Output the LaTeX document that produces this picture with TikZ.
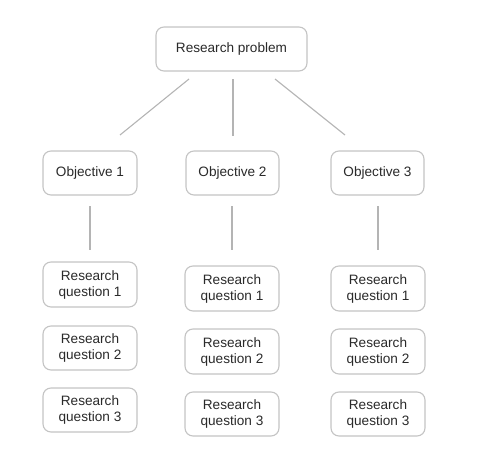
\documentclass[tikz,border=0pt]{standalone}
\usepackage{fontspec}
\setmainfont{Liberation Sans}
\definecolor{boxline}{HTML}{C4C4C4}
\definecolor{connline}{HTML}{B4B4B4}
\definecolor{txt}{HTML}{2A2A2A}
\begin{document}
\begin{tikzpicture}[x=1pt,y=-1pt,
  box/.style={draw=boxline,line width=1.1pt,rounded corners=8pt,fill=white,
    text=txt,align=center,inner sep=0pt,
    font=\fontsize{13.6}{16}\selectfont},
  conn/.style={draw=connline,line width=1.1pt}]
\useasboundingbox (0,0) rectangle (482,463);
% top
\node[box,minimum width=151pt,minimum height=44pt] (rp) at (231.5,49) {Research problem};
% objectives
\node[box,minimum width=94pt,minimum height=44pt] (o1) at (90,173) {Objective 1};
\node[box,minimum width=93pt,minimum height=44pt] (o2) at (232.5,173) {\raisebox{-5pt}{Objective 2}};
\node[box,minimum width=93pt,minimum height=44pt] (o3) at (377.5,173) {Objective 3};
% research questions
\node[box,minimum width=94pt,minimum height=45pt] (q11) at (90,284.5) {Research\\question 1};
\node[box,minimum width=94pt,minimum height=44pt] (q12) at (90,348) {Research\\question 2};
\node[box,minimum width=94pt,minimum height=44pt] (q13) at (90,410) {Research\\question 3};
\node[box,minimum width=94pt,minimum height=45pt] (q21) at (232,288.5) {Research\\question 1};
\node[box,minimum width=94pt,minimum height=45pt] (q22) at (232,351.5) {Research\\question 2};
\node[box,minimum width=94pt,minimum height=44pt] (q23) at (232,414) {Research\\question 3};
\node[box,minimum width=94pt,minimum height=45pt] (q31) at (378,288.5) {Research\\question 1};
\node[box,minimum width=94pt,minimum height=45pt] (q32) at (378,351.5) {Research\\question 2};
\node[box,minimum width=94pt,minimum height=44pt] (q33) at (378,414) {Research\\question 3};
% connector end points (lines float between boxes)
\coordinate (rpA) at (189,79);
\coordinate (rpB) at (233,79);
\coordinate (rpC) at (275,79);
\coordinate (o1in) at (120,135);
\coordinate (o2in) at (233,136);
\coordinate (o3in) at (345,135);
\coordinate (o1out) at (90,206);
\coordinate (o2out) at (232,206);
\coordinate (o3out) at (378,206);
\coordinate (q11in) at (90,250);
\coordinate (q21in) at (232,250);
\coordinate (q31in) at (378,250);
\draw[conn] (rpA) -- (o1in);
\draw[conn] (rpB) -- (o2in);
\draw[conn] (rpC) -- (o3in);
\draw[conn] (o1out) -- (q11in);
\draw[conn] (o2out) -- (q21in);
\draw[conn] (o3out) -- (q31in);
\end{tikzpicture}
\end{document}
